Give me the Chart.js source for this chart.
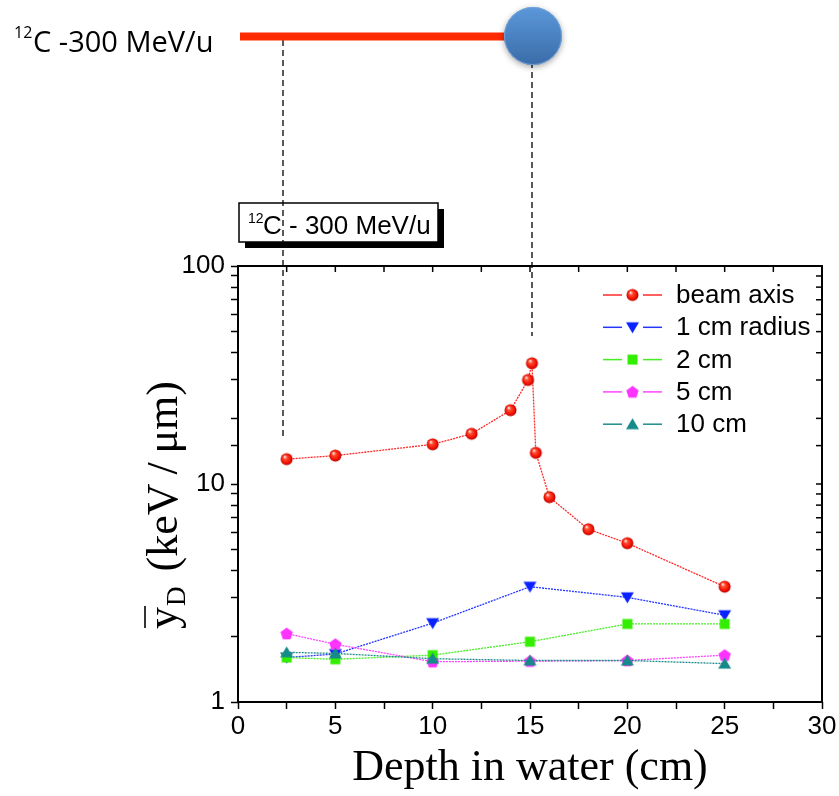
<!DOCTYPE html>
<html><head><meta charset="utf-8">
<script src="https://cdn.jsdelivr.net/npm/chart.js@4.4.1/dist/chart.umd.min.js"></script>
<style>html,body{margin:0;padding:0;background:#fff;overflow:hidden;} canvas{display:block;}</style>
</head><body>
<canvas id="c" width="839" height="796"></canvas>
<script>
// ---- data ----
const depthBeam = [2.5, 5, 10, 12, 14, 14.9, 15.1, 15.3, 16, 18, 20, 25];
const beamAxis  = [13.0, 13.5, 15.2, 17.0, 21.8, 30.0, 35.8, 13.9, 8.7, 6.2, 5.35, 3.38];
const depthRadial = [2.5, 5, 10, 15, 20, 25];
const radius1cm  = [1.60, 1.66, 2.30, 3.38, 3.02, 2.50];
const radius2cm  = [1.60, 1.57, 1.64, 1.89, 2.28, 2.28];
const radius5cm  = [2.06, 1.84, 1.53, 1.54, 1.55, 1.64];
const radius10cm = [1.69, 1.67, 1.58, 1.55, 1.55, 1.50];
const seriesLabels = ['beam axis', '1 cm radius', '2 cm', '5 cm', '10 cm'];
const yTickLabels = [1, 10, 100];
const xTickLabelStep = 5;
const xTitle = 'Depth in water (cm)';
const yTitleUnit = '(keV\u2009/\u2009\u03bcm)';
const beamLabel = 'C -300 MeV/u';
const boxLabel = 'C - 300 MeV/u';
const isotope = '12';

// ---- marker images ----
function makeMarker(kind, color) {
  const s = 15, c = document.createElement('canvas');
  c.width = s; c.height = s;
  const g = c.getContext('2d'), m = s / 2;
  g.fillStyle = color;
  g.beginPath();
  if (kind === 'ball') {
    const r = 6;
    const gr = g.createRadialGradient(m - 2, m - 2.5, 0.5, m, m, r);
    gr.addColorStop(0, '#ffe0d8'); gr.addColorStop(0.28, '#ff4a30');
    gr.addColorStop(0.75, '#f21000'); gr.addColorStop(1, '#b00000');
    g.fillStyle = gr; g.arc(m, m, r, 0, Math.PI * 2);
  } else if (kind === 'tdown') {
    g.moveTo(m - 6.5, m - 5); g.lineTo(m + 6.5, m - 5); g.lineTo(m, m + 6);
  } else if (kind === 'tup') {
    g.moveTo(m - 6.5, m + 5); g.lineTo(m + 6.5, m + 5); g.lineTo(m, m - 6);
  } else if (kind === 'square') {
    g.rect(m - 5, m - 5, 10, 10);
  } else if (kind === 'pent') {
    for (let i = 0; i < 5; i++) {
      const a = -Math.PI / 2 + i * 2 * Math.PI / 5;
      const px = m + 6.5 * Math.cos(a), py = m + 0.5 + 6.5 * Math.sin(a);
      i ? g.lineTo(px, py) : g.moveTo(px, py);
    }
  }
  g.closePath(); g.fill();
  return c;
}
const markers = [
  makeMarker('ball', '#ff2000'),
  makeMarker('tdown', '#0a22ff'),
  makeMarker('square', '#33ee00'),
  makeMarker('pent', '#ff33ff'),
  makeMarker('tup', '#168a8a')
];
const lineColors = ['#ff2a2a', '#2436ff', '#44ee22', '#ff44ff', '#1f8c8c'];

function ds(i, xs, ys) {
  return {
    label: seriesLabels[i],
    data: xs.map((x, k) => ({ x: x, y: ys[k] })),
    borderColor: lineColors[i], borderWidth: 1.3, borderDash: [2, 1],
    pointStyle: markers[i], pointRadius: 6, pointHoverRadius: 6,
    fill: false, tension: 0, order: 5 - i
  };
}

function line(ctx, x1, y1, x2, y2) { ctx.beginPath(); ctx.moveTo(x1, y1); ctx.lineTo(x2, y2); ctx.stroke(); }

const decor = {
  id: 'decor',
  beforeDraw(chart) {
    const ctx = chart.ctx;
    ctx.save(); ctx.fillStyle = '#fff'; ctx.fillRect(0, 0, chart.width, chart.height); ctx.restore();
  },
  afterDraw(chart) {
    const { ctx, chartArea: a, scales: { x, y } } = chart;
    ctx.save();
    // frame
    ctx.strokeStyle = '#000'; ctx.lineWidth = 2;
    ctx.strokeRect(a.left, a.top, a.right - a.left, a.bottom - a.top);
    // inner ticks top and right
    ctx.lineWidth = 1.5;
    x.ticks.forEach(t => { const px = x.getPixelForValue(t.value); line(ctx, px, a.top, px, a.top + 6); });
    y.ticks.forEach(t => { const py = y.getPixelForValue(t.value); line(ctx, a.right - 6, py, a.right, py); });

    // legend
    ctx.font = '26px "Liberation Sans"'; ctx.textBaseline = 'middle'; ctx.textAlign = 'left';
    chart.data.datasets.forEach((d, i) => {
      const ry = a.top + 29 + i * 32.3;
      ctx.strokeStyle = lineColors[i]; ctx.lineWidth = 1.5; ctx.setLineDash([]);
      line(ctx, 603, ry, 622, ry);
      line(ctx, 643, ry, 662, ry);
      const m = markers[i]; ctx.drawImage(m, 632.5 - m.width / 2, ry - m.height / 2);
      ctx.fillStyle = '#000'; ctx.fillText(d.label, 676, ry + 1);
    });

    // axis titles
    ctx.fillStyle = '#000'; ctx.textBaseline = 'alphabetic';
    ctx.font = '44px "Liberation Serif"'; ctx.textAlign = 'center';
    ctx.fillText(xTitle, (a.left + a.right) / 2, 780);

    ctx.save();
    ctx.translate(177, 505); ctx.rotate(-Math.PI / 2);
    ctx.textAlign = 'left';
    ctx.font = '44px "Liberation Serif"'; const wy = ctx.measureText('y').width;
    ctx.font = '27px "Liberation Serif"'; const wd = ctx.measureText('D').width;
    ctx.font = '44px "Liberation Serif"'; const wu = ctx.measureText(yTitleUnit).width;
    const gap = 15, W = wy + 1 + wd + gap + wu;
    let sx = -W / 2;
    ctx.fillText('y', sx, 0);
    ctx.lineWidth = 1.6; ctx.strokeStyle = '#000';
    line(ctx, sx + 1, -32, sx + wy + 1, -32);
    ctx.font = '27px "Liberation Serif"'; ctx.fillText('D', sx + wy + 1, 8);
    ctx.font = '44px "Liberation Serif"'; ctx.fillText(yTitleUnit, sx + wy + 1 + wd + gap, 0);
    ctx.restore();

    // boxed label with shadow
    ctx.fillStyle = '#000'; ctx.fillRect(245, 209, 199, 39);
    ctx.fillStyle = '#fff'; ctx.fillRect(239, 203, 199, 39);
    ctx.strokeStyle = '#000'; ctx.lineWidth = 1.5; ctx.strokeRect(239, 203, 199, 39);
    ctx.fillStyle = '#000'; ctx.textAlign = 'left';
    ctx.font = '14px "Liberation Sans"'; ctx.fillText(isotope, 248, 223);
    ctx.font = '26px "Liberation Sans"'; ctx.fillText(boxLabel, 263, 234);

    // dashed guide lines
    ctx.strokeStyle = '#000'; ctx.lineWidth = 1.3; ctx.setLineDash([6, 4]);
    line(ctx, 283, 40, 283, 440);
    line(ctx, 532, 62, 532, 336);
    ctx.setLineDash([]);

    // beam: text, red line, sphere
    ctx.font = '16px "Open Sans"'; ctx.fillText(isotope, 14, 38);
    ctx.font = '29px "Open Sans"'; ctx.fillText(beamLabel, 33, 52);
    ctx.fillStyle = '#ff2a00'; ctx.fillRect(240, 32.5, 285, 8);
    ctx.save();
    ctx.shadowColor = 'rgba(0,0,0,0.35)'; ctx.shadowBlur = 6; ctx.shadowOffsetY = 2;
    const sg = ctx.createLinearGradient(0, 7, 0, 65);
    sg.addColorStop(0, '#5b98da'); sg.addColorStop(1, '#3a6ca8');
    ctx.fillStyle = sg; ctx.beginPath(); ctx.arc(533, 36, 29, 0, Math.PI * 2); ctx.fill();
    ctx.restore();
    ctx.strokeStyle = 'rgba(120,165,220,0.9)'; ctx.lineWidth = 1;
    ctx.beginPath(); ctx.arc(533, 36, 28.5, 0, Math.PI * 2); ctx.stroke();
    ctx.restore();
  }
};

const tickFont = { family: 'Liberation Sans', size: 26 };
new Chart(document.getElementById('c').getContext('2d'), {
  type: 'line',
  data: {
    datasets: [
      ds(0, depthBeam, beamAxis),
      ds(1, depthRadial, radius1cm),
      ds(2, depthRadial, radius2cm),
      ds(3, depthRadial, radius5cm),
      ds(4, depthRadial, radius10cm)
    ]
  },
  options: {
    responsive: false, animation: false, devicePixelRatio: 1,
    layout: { padding: { left: 178, right: 17, top: 266, bottom: 54 } },
    plugins: { legend: { display: false }, tooltip: { enabled: false } },
    scales: {
      x: {
        type: 'linear', min: 0, max: 30,
        ticks: { stepSize: 2.5, autoSkip: false, maxRotation: 0, font: tickFont, color: '#000', padding: 2,
          callback: v => (v % xTickLabelStep === 0 ? String(v) : '') },
        grid: { drawOnChartArea: false, tickLength: 7, color: '#000', tickColor: '#000', tickWidth: 1.5 },
        border: { display: false },
        afterFit: s => { s.height = 40; }
      },
      y: {
        type: 'logarithmic', min: 1, max: 100,
        ticks: { autoSkip: false, font: tickFont, color: '#000', padding: 6,
          callback: v => (yTickLabels.includes(v) ? String(v) : '') },
        grid: { drawOnChartArea: false, tickLength: 7, color: '#000', tickColor: '#000', tickWidth: 1.5 },
        border: { display: false },
        afterFit: s => { s.width = 60; }
      }
    }
  },
  plugins: [decor]
});
</script>
</body></html>
